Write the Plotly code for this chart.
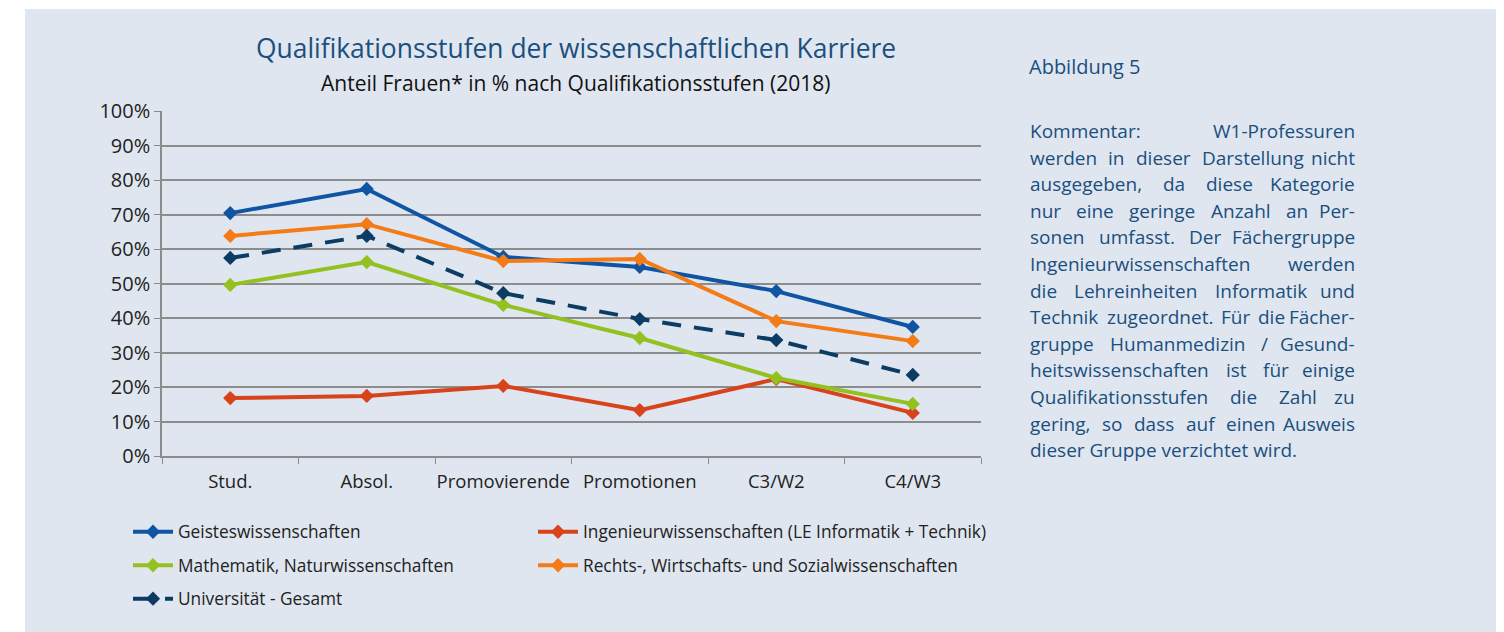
import plotly.graph_objects as go

categories = ["Stud.", "Absol.", "Promovierende", "Promotionen", "C3/W2", "C4/W3"]
geistes = [70.4, 77.4, 57.7, 54.8, 47.8, 37.4]
ingenieur = [16.8, 17.4, 20.3, 13.3, 22.3, 12.5]
mathe = [49.6, 56.2, 43.8, 34.2, 22.6, 15.1]
rechts = [63.8, 67.2, 56.5, 57.1, 39.1, 33.3]
gesamt = [57.4, 63.8, 47.2, 39.7, 33.6, 23.5]

names = ["Geisteswissenschaften",
         "Ingenieurwissenschaften (LE Informatik + Technik)",
         "Mathematik, Naturwissenschaften",
         "Rechts-, Wirtschafts- und Sozialwissenschaften",
         "Universität - Gesamt"]

comment_lines = [
    "Kommentar: W1-Professuren",
    "werden in dieser Darstellung nicht",
    "ausgegeben, da diese Kategorie",
    "nur eine geringe Anzahl an Per-",
    "sonen umfasst. Der Fächergruppe",
    "Ingenieurwissenschaften werden",
    "die Lehreinheiten Informatik und",
    "Technik zugeordnet. Für die Fächer-",
    "gruppe Humanmedizin / Gesund-",
    "heitswissenschaften ist für einige",
    "Qualifikationsstufen die Zahl zu",
    "gering, so dass auf einen Ausweis",
    "dieser Gruppe verzichtet wird.",
]

BG = "#dfe6f0"
FONT = "Open Sans"
OFF = 8  # default body margin of the html page
W, H = 1504 - OFF, 632 - OFF
L, T = 162 - OFF, 111 - OFF
R = W - (981 - OFF)
B = H - (456 - OFF)
PW, PH = W - L - R, H - T - B

def px(x):  # page x -> paper
    return (x - OFF - L) / PW

def py(y):  # page y -> paper
    return (H - B - (y - OFF)) / PH

# approximate Open Sans advance widths (em) for text justification
CW = {
    'a': .556, 'b': .613, 'c': .480, 'd': .613, 'e': .561, 'f': .336, 'g': .546, 'h': .614,
    'i': .258, 'j': .258, 'k': .530, 'l': .258, 'm': .932, 'n': .614, 'o': .604, 'p': .613,
    'q': .613, 'r': .408, 's': .477, 't': .353, 'u': .614, 'v': .501, 'w': .777, 'x': .524,
    'y': .502, 'z': .468, 'ä': .556, 'ü': .614, 'ö': .604,
    'A': .633, 'D': .729, 'F': .516, 'G': .728, 'H': .738, 'I': .279, 'K': .614, 'L': .519,
    'P': .603, 'Q': .776, 'T': .556, 'W': .924, 'Z': .560,
    '1': .572, ':': .266, '-': .322, '.': .266, ',': .250, '/': .371,
}

def word_w(w, size):
    return sum(CW.get(c, .56) for c in w) * size

fig = go.Figure()
series = [
    (geistes, names[0], "#0f55a3", "solid", "legend"),
    (ingenieur, names[1], "#d8431b", "solid", "legend2"),
    (mathe, names[2], "#93c11f", "solid", "legend"),
    (rechts, names[3], "#f47b16", "solid", "legend2"),
    (gesamt, names[4], "#0c3c64", "dash", "legend"),
]
for i, (vals, name, col, dash, leg) in enumerate(series):
    fig.add_trace(go.Scatter(
        x=categories, y=vals, name=name, mode="lines+markers",
        line=dict(color=col, width=4, dash="solid" if dash == "solid" else "19px,13px"),
        marker=dict(symbol="diamond", size=11, color=col),
        legend=leg, legendgroup=str(i),
    ))

fig.update_layout(
    width=W, height=H,
    margin=dict(l=L, r=R, t=T, b=B),
    paper_bgcolor=BG, plot_bgcolor=BG,
    font=dict(family=FONT, color="#222222", size=16),
    showlegend=True,
    legend=dict(x=px(128), y=py(514), xanchor="left", yanchor="top",
                bgcolor="rgba(0,0,0,0)", font=dict(size=17.3, color="#222"),
                tracegroupgap=8, itemwidth=40, orientation="v"),
    legend2=dict(x=px(533), y=py(514), xanchor="left", yanchor="top",
                 bgcolor="rgba(0,0,0,0)", font=dict(size=17.3, color="#222"),
                 tracegroupgap=8, itemwidth=40, orientation="v"),
)
fig.update_xaxes(
    type="category", tickson="boundaries", ticks="outside", ticklen=6,
    tickcolor="#8c8c8c", showline=True, linecolor="#8c8c8c", linewidth=1.5,
    showgrid=False, range=[-0.5, 5.5], tickangle=0, ticklabelstandoff=8,
    tickfont=dict(size=18.5, color="#222"),
)
fig.update_yaxes(
    range=[0, 100], dtick=10, ticksuffix="%", ticks="outside", ticklen=6,
    tickcolor="#8c8c8c", showline=True, linecolor="#8c8c8c", linewidth=1.5,
    gridcolor="#8c8c8c", gridwidth=1.5, zeroline=False,
    tickfont=dict(size=20, color="#222"),
)

# white strips outside the panel
fig.add_shape(type="rect", xref="paper", yref="paper", x0=px(0), x1=px(1504), y0=py(0), y1=py(9),
              fillcolor="white", line_width=0, layer="above")
fig.add_shape(type="rect", xref="paper", yref="paper", x0=px(0), x1=px(25), y0=py(0), y1=py(640),
              fillcolor="white", line_width=0, layer="above")

fig.add_annotation(text="Qualifikationsstufen der wissenschaftlichen Karriere",
                   xref="paper", yref="paper", x=px(576), y=py(48), showarrow=False,
                   xanchor="center", yanchor="middle",
                   font=dict(size=26.4, color="#1b4f7d", family=FONT))
fig.add_annotation(text="Anteil Frauen* in % nach Qualifikationsstufen (2018)",
                   xref="paper", yref="paper", x=px(575), y=py(83), showarrow=False,
                   xanchor="center", yanchor="middle",
                   font=dict(size=21, color="#111", family=FONT))
fig.add_annotation(text="Abbildung 5", xref="paper", yref="paper", x=px(1027), y=py(67),
                   showarrow=False, xanchor="left", yanchor="middle",
                   font=dict(size=20, color="#1b4f7d", family=FONT))

# justified comment paragraph
CS = 19.0
LEFT, RIGHT = 1028, 1357
for k, line in enumerate(comment_lines):
    yy = py(131 + k * 26.6)
    words = line.split(" ")
    fnt = dict(size=CS, color="#1b4f7d", family=FONT)
    if k == len(comment_lines) - 1 or len(words) == 1:
        fig.add_annotation(text=line, xref="paper", yref="paper", x=px(LEFT), y=yy,
                           showarrow=False, xanchor="left", yanchor="middle", font=fnt)
        continue
    widths = [word_w(w, CS) for w in words]
    gap = max((RIGHT - LEFT - sum(widths)) / (len(words) - 1), 0.25 * CS)
    xpos = LEFT
    for j, w in enumerate(words):
        if j == len(words) - 1:
            fig.add_annotation(text=w, xref="paper", yref="paper", x=px(RIGHT), y=yy,
                               showarrow=False, xanchor="right", yanchor="middle", font=fnt)
        else:
            fig.add_annotation(text=w, xref="paper", yref="paper", x=px(xpos), y=yy,
                               showarrow=False, xanchor="left", yanchor="middle", font=fnt)
        xpos += widths[j] + gap

fig.write_html("out.html")
